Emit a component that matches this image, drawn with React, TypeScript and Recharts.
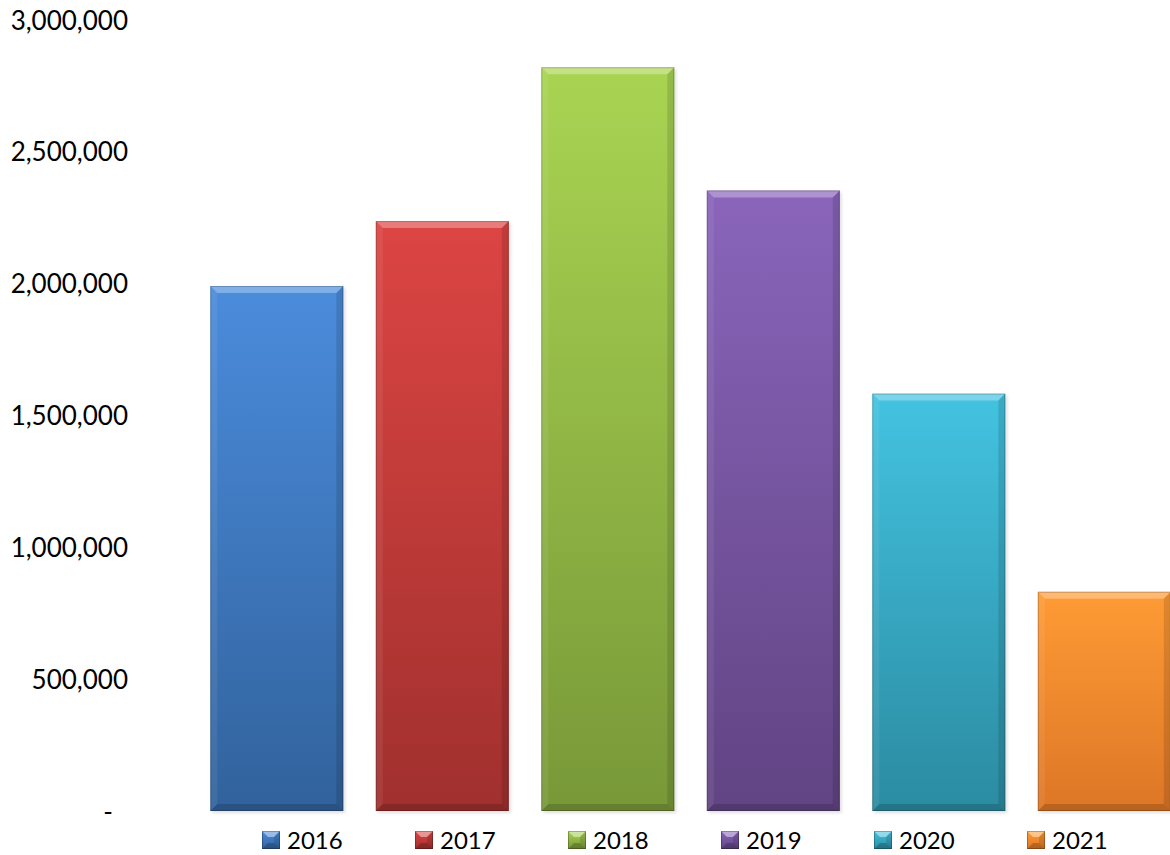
import React from 'react';
import { BarChart, Bar, XAxis, YAxis, Legend } from 'recharts';

const years = ['2016', '2017', '2018', '2019', '2020', '2021'];
const values = [1990000, 2236000, 2819000, 2352000, 1582000, 831000];
const topColors = ['#4b8cdc', '#dc4543', '#a9d452', '#8a65bb', '#43c3e1', '#ff9b35'];
const bottomColors = ['#31629c', '#a0302e', '#789838', '#614483', '#2b8ba1', '#dd7626'];
const yTicks = [0, 500000, 1000000, 1500000, 2000000, 2500000, 3000000];

const row: Record<string, number | string> = { name: 'all' };
years.forEach((y, i) => {
  row[y] = values[i];
});
const data = [row];

const FONT = 'Lato, "Open Sans", sans-serif';

const BevelBar = (props: any) => {
  const { x, y, width: w, height: h, index, gid } = props;
  if (!w || !h || h <= 0) return null;
  const b = Math.min(7, w / 4, h / 4);
  return (
    <g>
      <rect x={x + 2} y={y + 2} width={w} height={h} fill="rgba(0,0,0,0.12)" filter="url(#blurShadow)" />
      <rect x={x} y={y} width={w} height={h} fill={`url(#${gid})`} />
      <polygon points={`${x},${y} ${x + w},${y} ${x + w - b},${y + b} ${x + b},${y + b}`} fill="rgba(255,255,255,0.3)" />
      <polygon points={`${x},${y} ${x + b},${y + b} ${x + b},${y + h - b} ${x},${y + h}`} fill="rgba(255,255,255,0.07)" />
      <polygon points={`${x + w},${y} ${x + w},${y + h} ${x + w - b},${y + h - b} ${x + w - b},${y + b}`} fill="rgba(0,0,0,0.12)" />
      <polygon points={`${x},${y + h} ${x + w},${y + h} ${x + w - b},${y + h - b} ${x + b},${y + h - b}`} fill="rgba(0,0,0,0.16)" />
      <rect x={x + 0.5} y={y + 0.5} width={w - 1} height={h - 1} fill="none" stroke="rgba(0,0,0,0.2)" strokeWidth={1} />
    </g>
  );
};

const YTick = (props: any) => {
  const { x, y, payload } = props;
  const v = payload.value as number;
  const label = v === 0 ? '-' : v.toLocaleString('en-US');
  return (
    <text
      x={v === 0 ? x - 15 : x}
      y={y}
      textAnchor="end"
      dominantBaseline="central"
      fontFamily={FONT}
      fontSize={26}
      fill="#000"
    >
      {label}
    </text>
  );
};

const LegendContent = () => (
  <div style={{ display: 'flex', paddingTop: 17, paddingLeft: 262, fontFamily: FONT, fontSize: 24, lineHeight: '24px', color: '#000' }}>
    {years.map((yr, i) => (
      <div key={yr} style={{ width: 153, display: 'flex', alignItems: 'center' }}>
        <svg width={18} height={18} style={{ marginRight: 7, display: 'block' }}>
          <defs>
            <linearGradient id={`lg${i}`} x1="0" y1="0" x2="0" y2="1">
              <stop offset="0%" stopColor={topColors[i]} />
              <stop offset="100%" stopColor={bottomColors[i]} />
            </linearGradient>
          </defs>
          <rect x={0} y={0} width={18} height={18} fill={`url(#lg${i})`} />
          <polygon points="0,0 18,0 12,6 6,6" fill="rgba(255,255,255,0.45)" />
          <polygon points="0,18 18,18 12,12 6,12" fill="rgba(0,0,0,0.2)" />
          <polygon points="18,0 18,18 12,12 12,6" fill="rgba(0,0,0,0.12)" />
          <rect x={0.5} y={0.5} width={17} height={17} fill="none" stroke="rgba(0,0,0,0.25)" />
        </svg>
        <span>{yr}</span>
      </div>
    ))}
  </div>
);

export default function App() {
  return (
    <div style={{ position: 'absolute', left: 0, top: 0, width: 1170, height: 855, overflow: 'hidden', background: '#fff' }}>
      <BarChart
        width={1190}
        height={855}
        data={data}
        margin={{ top: 19.5, right: 3, left: 0, bottom: 0 }}
        barCategoryGap={16.3}
        barGap={32.5}
      >
        <defs>
          {years.map((yr, i) => (
            <linearGradient key={yr} id={`g${i}`} x1="0" y1="0" x2="0" y2="1">
              <stop offset="0%" stopColor={topColors[i]} />
              <stop offset="100%" stopColor={bottomColors[i]} />
            </linearGradient>
          ))}
          <filter id="blurShadow" x="-10%" y="-10%" width="120%" height="120%">
            <feGaussianBlur stdDeviation="1.5" />
          </filter>
        </defs>
        <XAxis dataKey="name" hide />
        <YAxis
          width={194}
          domain={[0, 3000000]}
          ticks={yTicks}
          axisLine={false}
          tickLine={false}
          tickMargin={60}
          interval={0}
          tick={<YTick />}
        />
        <Legend verticalAlign="bottom" height={44} content={<LegendContent />} wrapperStyle={{ left: 0, width: 1190 }} />
        {years.map((yr, i) => (
          <Bar
            key={yr}
            dataKey={yr}
            fill={topColors[i]}
            isAnimationActive={false}
            shape={(p: any) => <BevelBar {...p} gid={`g${i}`} />}
          />
        ))}
      </BarChart>
    </div>
  );
}
